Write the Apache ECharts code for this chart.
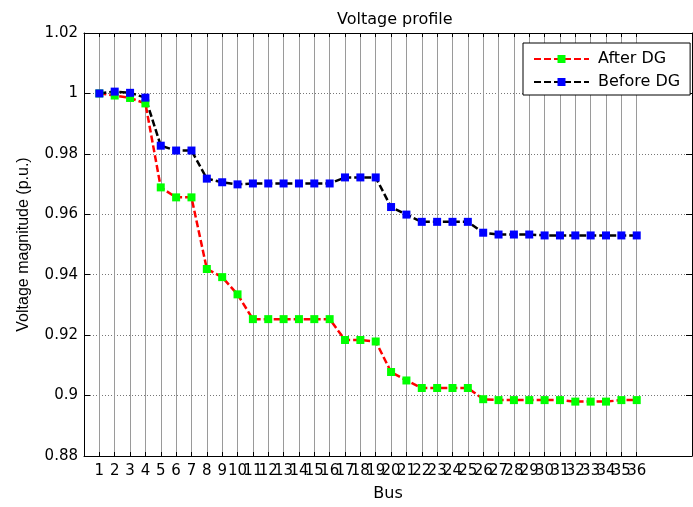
<!DOCTYPE html>
<html>
<head>
<meta charset="utf-8">
<script src="https://cdn.jsdelivr.net/npm/echarts@6/dist/echarts.min.js"></script>
<style>
html,body{margin:0;padding:0;background:#fff;}
#chart{width:693px;height:507px;}
</style>
</head>
<body>
<div id="chart"></div>
<script>
const buses = [1,2,3,4,5,6,7,8,9,10,11,12,13,14,15,16,17,18,19,20,21,22,23,24,25,26,27,28,29,30,31,32,33,34,35,36];
const afterDG = [1.000,0.9993,0.9985,0.9967,0.9689,0.9656,0.9656,0.9419,0.9392,0.9335,
                 0.9253,0.9253,0.9253,0.9253,0.9253,0.9253,0.9184,0.9184,0.9179,0.9078,
                 0.9050,0.9025,0.9025,0.9025,0.9025,0.8988,0.8985,0.8985,0.8985,0.8985,
                 0.8985,0.8980,0.8980,0.8980,0.8985,0.8985];
const beforeDG = [1.000,1.0006,1.0002,0.9986,0.9827,0.9811,0.9811,0.9718,0.9706,0.9699,
                  0.9702,0.9702,0.9702,0.9702,0.9702,0.9702,0.9722,0.9722,0.9722,0.9624,
                  0.9599,0.9575,0.9575,0.9575,0.9575,0.9539,0.9533,0.9533,0.9533,0.9530,
                  0.9530,0.9530,0.9530,0.9530,0.9530,0.9530];
const yTicks = [0.88,0.90,0.92,0.94,0.96,0.98,1.00,1.02];
const seriesNames = ['After DG','Before DG'];

const FONT = 'DejaVu Sans';
const chart = echarts.init(document.getElementById('chart'), null, {renderer:'canvas'});

function pairs(vals){ return buses.map((b,i)=>[b, vals[i]]); }
// split tick labels into two interleaved sets so none of them gets auto-hidden
const oddBuses = buses.filter((b,i)=>i%2===0);
const evenBuses = buses.filter((b,i)=>i%2===1);

const xCommon = {
  type:'value', min:0, max:39.6, interval:1,
  axisLine:{show:true, onZero:false, lineStyle:{color:'#000', width:1}},
  axisTick:{show:true, inside:true, length:4, customValues:buses, lineStyle:{color:'#000'}},
};
const xLabelStyle = {show:true, margin:8, fontFamily:FONT, fontSize:15, color:'#000',
  hideOverlap:false, showMinLabel:true, showMaxLabel:true};
const yCommon = {
  type:'value', min:yTicks[0], max:yTicks[yTicks.length-1], interval:0.02,
  axisLine:{show:true, onZero:false, lineStyle:{color:'#000', width:1}},
  axisTick:{show:true, inside:true, length:6, lineStyle:{color:'#000'}},
};

chart.setOption({
  backgroundColor:'#fff',
  animation:false,
  title:{
    text:'Voltage profile', left:332, top:7,
    textStyle:{fontFamily:FONT, fontSize:16, fontWeight:'normal', color:'#000'}
  },
  grid:{left:84, top:33, right:1, bottom:48, containLabel:false},
  legend:{
    data:seriesNames, orient:'vertical', left:523, top:43,
    itemWidth:55, itemHeight:10, itemGap:7,
    padding:[8,10,5,10],
    backgroundColor:'#fff', borderColor:'#000', borderWidth:1, borderRadius:0,
    textStyle:{fontFamily:FONT, fontSize:16, color:'#000', padding:[0,0,0,4]}
  },
  xAxis:[
    Object.assign({}, xCommon, {
      position:'bottom',
      name:'Bus', nameLocation:'middle', nameGap:30,
      nameTextStyle:{fontFamily:FONT, fontSize:16, color:'#000'},
      axisLabel:Object.assign({customValues:oddBuses}, xLabelStyle),
      splitLine:{show:true, lineStyle:{color:'#9a9a9a', width:1, type:'solid'}}
    }),
    Object.assign({}, xCommon, {
      position:'top',
      axisLabel:{show:false},
      splitLine:{show:false}
    }),
    Object.assign({}, xCommon, {
      position:'bottom',
      axisLine:{show:false},
      axisTick:{show:false},
      axisLabel:Object.assign({customValues:evenBuses}, xLabelStyle),
      splitLine:{show:false}
    })
  ],
  yAxis:[
    Object.assign({}, yCommon, {
      position:'left',
      name:'Voltage magnitude (p.u.)', nameLocation:'middle', nameGap:52,
      nameTextStyle:{fontFamily:'Liberation Sans', fontSize:16, color:'#000'},
      axisLabel:{show:true, margin:6, fontFamily:FONT, fontSize:15, color:'#000',
        showMinLabel:true, showMaxLabel:true,
        formatter:function(v){ return String(+v.toFixed(2)); }},
      splitLine:{show:true, lineStyle:{color:'#777', width:1, type:[1,2]}}
    }),
    Object.assign({}, yCommon, {
      position:'right',
      axisLabel:{show:false},
      splitLine:{show:false}
    })
  ],
  series:[
    {
      name:seriesNames[0], type:'line', data:pairs(afterDG),
      symbol:'rect', symbolSize:8, showAllSymbol:true,
      lineStyle:{color:'#ff0000', width:2.5, type:[7,3]},
      itemStyle:{color:'#00ff00'},
      emphasis:{disabled:true}
    },
    {
      name:seriesNames[1], type:'line', data:pairs(beforeDG),
      symbol:'rect', symbolSize:8, showAllSymbol:true,
      lineStyle:{color:'#000000', width:2.5, type:[7,3]},
      itemStyle:{color:'#0000ff'},
      emphasis:{disabled:true}
    }
  ]
});
</script>
</body>
</html>
